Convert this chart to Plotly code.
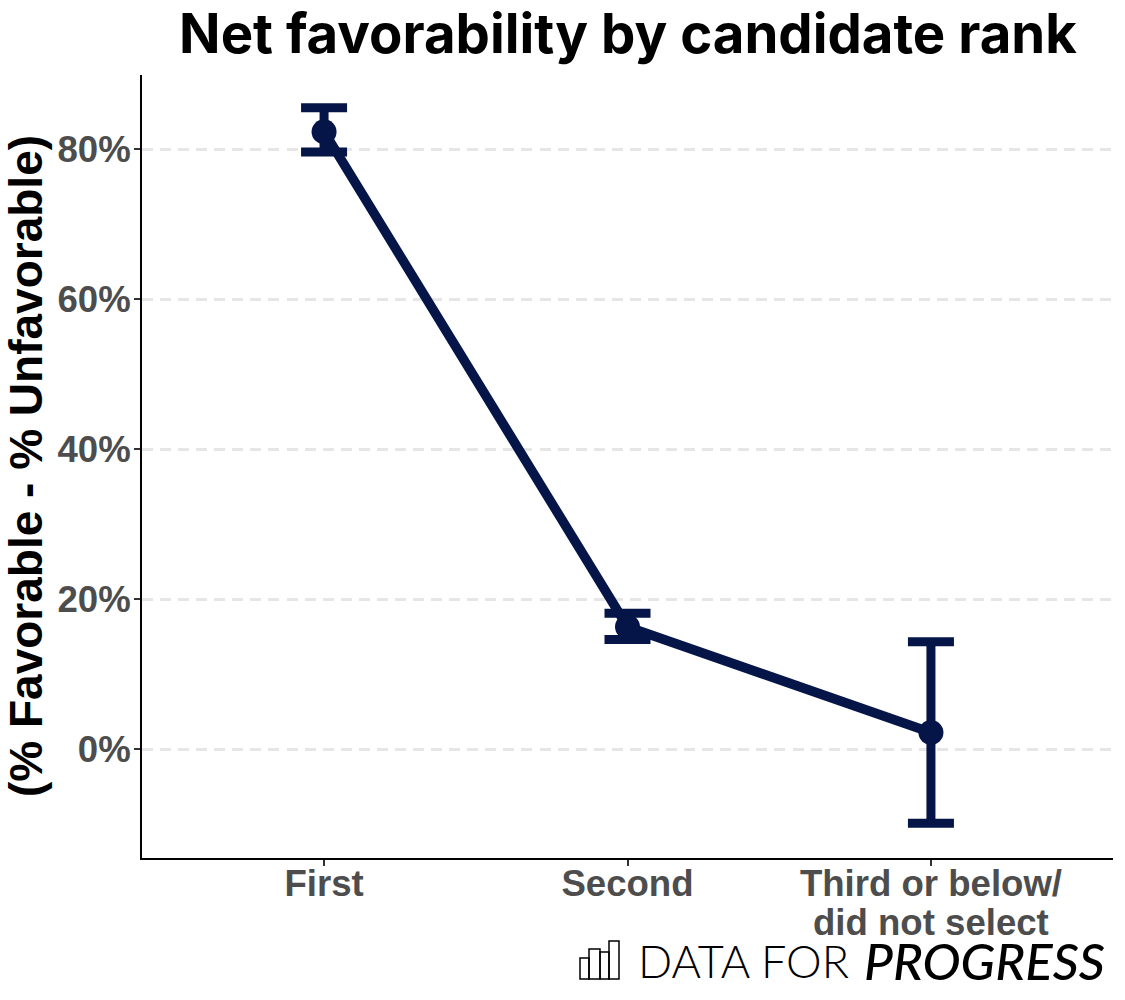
import plotly.graph_objects as go

categories = ["First", "Second", "Third or below/"]
category_second_line = "did not select"
net_fav = [82.3, 16.3, 2.2]
err_upper = [85.5, 18.1, 14.3]
err_lower = [79.6, 14.6, -9.9]
y_ticks = [0, 20, 40, 60, 80]
y_labels = ["0%", "20%", "40%", "60%", "80%"]
NAVY = "#051547"
x_pos = [0, 1, 2]

WIDTH, HEIGHT = 1125, 1000
PLOT_L, PLOT_T, PLOT_W, PLOT_H = 142, 75, 971, 783
def px(x): return (x - PLOT_L) / PLOT_W
def py(y): return (PLOT_T + PLOT_H - y) / PLOT_H

logo_bars = [(580, 589, 958), (589, 600, 949), (600, 609, 952), (609, 619, 941)]
logo_base = 979

fig = go.Figure()
fig.add_trace(go.Scatter(
    x=x_pos, y=net_fav, mode="lines+markers",
    line=dict(color=NAVY, width=9.5),
    marker=dict(color=NAVY, size=25),
    error_y=dict(type="data", symmetric=False,
                 array=[u - v for u, v in zip(err_upper, net_fav)],
                 arrayminus=[v - l for l, v in zip(err_lower, net_fav)],
                 color=NAVY, thickness=9, width=23),
    showlegend=False, hoverinfo="skip",
))
tickfont = dict(family="Liberation Sans", size=36.6, color="#4D4D4D", weight="bold")
fig.update_layout(
    width=WIDTH, height=HEIGHT, autosize=False,
    margin=dict(l=PLOT_L, r=WIDTH - PLOT_L - PLOT_W, t=PLOT_T, b=HEIGHT - PLOT_T - PLOT_H),
    paper_bgcolor="white", plot_bgcolor="white",
    title=dict(text="<b>Net favorability by candidate rank</b>", x=628 / WIDTH, xanchor="center",
               y=1 - 34 / HEIGHT, yanchor="middle",
               font=dict(family="Inter, sans-serif", size=54.5, color="black")),
    xaxis=dict(range=[-0.6, 2.6], tickvals=x_pos, ticktext=categories, showgrid=False, zeroline=False,
               showline=True, linecolor="black", linewidth=2, ticks="outside", ticklen=6, tickcolor="#333333", tickwidth=2,
               ticklabelstandoff=-14, tickfont=tickfont),
    yaxis=dict(range=[-14.53, 89.87], tickvals=y_ticks, ticktext=y_labels, showgrid=True, griddash="11px,7.07px", gridcolor="#E6E6E6", gridwidth=3,
               zeroline=False, showline=True, linecolor="black", linewidth=2, ticks="outside", ticklen=6, tickcolor="#333333", tickwidth=2,
               ticklabelstandoff=-4, tickfont=tickfont),
    annotations=[
        dict(text="<b>(% Favorable - % Unfavorable)</b>", xref="paper", yref="paper", x=px(26), y=py(466), textangle=-90,
             xanchor="center", yanchor="middle", showarrow=False,
             font=dict(family="Liberation Sans", size=46, color="black")),
        dict(text=category_second_line, xref="x", yref="paper", x=2, y=py(922), xanchor="center", yanchor="middle",
             showarrow=False, font=tickfont),
        dict(text="DATA FOR", xref="paper", yref="paper", x=px(636), y=py(961), xanchor="left", yanchor="middle",
             showarrow=False, font=dict(family="Lato Light, Lato, sans-serif", size=45, color="black", weight=300)),
        dict(text="<i>PROGRESS</i>", xref="paper", yref="paper", x=px(1107), y=py(961), xanchor="right", yanchor="middle",
             showarrow=False, font=dict(family="Lato Medium, Lato, sans-serif", size=51, color="black", weight=600)),
    ],
    shapes=[
        dict(type="rect", xref="paper", yref="paper", x0=px(a), x1=px(b), y0=py(logo_base), y1=py(t),
             line=dict(color="black", width=1.5), fillcolor="rgba(0,0,0,0)")
        for a, b, t in logo_bars
    ],
)
fig.write_html("out.html", post_script="document.body.style.margin='0';", config=dict(displayModeBar=False))
